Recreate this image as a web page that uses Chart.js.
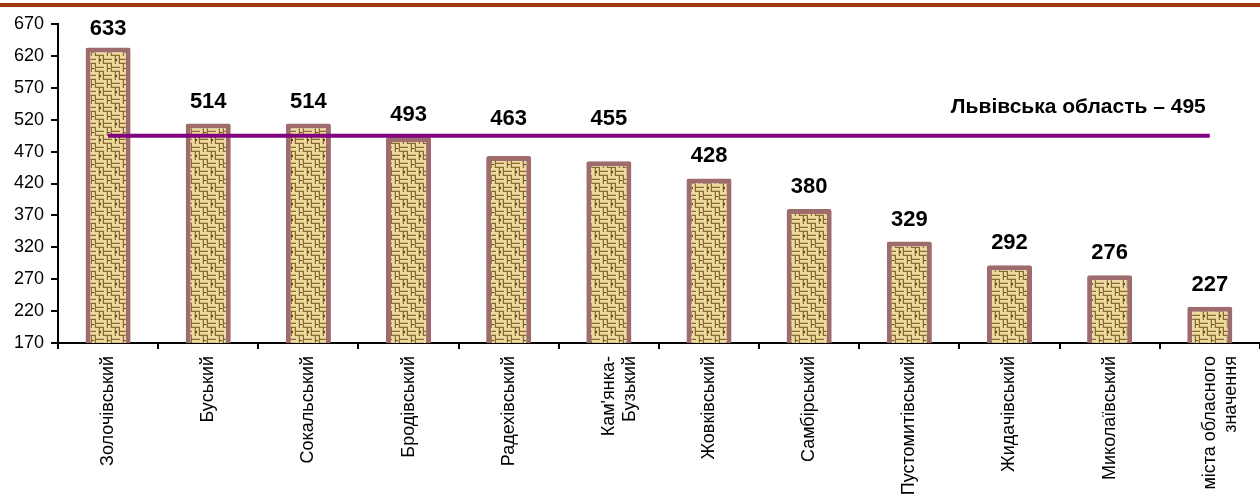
<!DOCTYPE html>
<html><head><meta charset="utf-8">
<script src="https://cdn.jsdelivr.net/npm/chart.js@4.4.0/dist/chart.umd.min.js"></script>
<style>
html,body{margin:0;padding:0;background:#fff;}
#wrap{position:relative;width:1260px;height:499px;overflow:hidden;}
#topline{position:absolute;left:0;top:3px;width:1260px;height:4px;background:#9c3a0c;}
canvas{position:absolute;left:0;top:0;}
</style></head>
<body><div id="wrap"><canvas id="c" width="1260" height="499"></canvas><div id="topline"></div></div>
<script>
const categories = [
  "Золочівський","Буський","Сокальський","Бродівський","Радехівський",
  ["Кам'янка-","Бузький"],"Жовківський","Самбірський","Пустомитівський",
  "Жидачівський","Миколаївський",["міста обласного","значення"]
];
const values = [633,514,514,493,463,455,428,380,329,292,276,227];
const regionAverage = 495;
const regionLabel = "Львівська область – 495";
const yTicks = {min:170, max:670, step:50};

function makePattern(){
  const p = document.createElement('canvas');
  p.width = 16; p.height = 16;
  const g = p.getContext('2d');
  g.fillStyle = '#c6aa70'; g.fillRect(0,0,16,16);
  for(let by=0; by<2; by++){
    for(let bx=0; bx<2; bx++){
      const x0=bx*8, y0=by*8;
      if((bx+by)%2===0){
        g.fillStyle='#eedc9e'; g.fillRect(x0,y0,8,2); g.fillRect(x0,y0+4,8,2);
        g.fillStyle='#d4bc82'; g.fillRect(x0,y0+2,8,1); g.fillRect(x0,y0+6,8,1);
        g.fillStyle='#8a6a34'; g.fillRect(x0,y0+3,8,1); g.fillRect(x0,y0+7,8,1);
      } else {
        g.fillStyle='#eedc9e'; g.fillRect(x0,y0,2,8); g.fillRect(x0+4,y0,2,8);
        g.fillStyle='#d4bc82'; g.fillRect(x0+2,y0,1,8); g.fillRect(x0+6,y0,1,8);
        g.fillStyle='#8a6a34'; g.fillRect(x0+3,y0,1,8); g.fillRect(x0+7,y0,1,8);
      }
    }
  }
  g.fillStyle='#5e4520'; g.fillRect(3,11,2,2); g.fillRect(12,4,2,1);
  return document.getElementById('c').getContext('2d').createPattern(p,'repeat');
}

const valueLabels = {
  id:'valueLabels',
  afterDatasetsDraw(chart){
    const ctx = chart.ctx;
    const meta = chart.getDatasetMeta(0);
    const lm = chart.getDatasetMeta(1);
    const lineY = lm.data[0].y;
    ctx.save();
    ctx.font = 'bold 22px "Liberation Sans", Arial, sans-serif';
    ctx.fillStyle = '#000';
    ctx.textAlign = 'center';
    ctx.textBaseline = 'alphabetic';
    meta.data.forEach((el,i)=>{
      let b = Math.max(35, el.y - 16);
      if (b > lineY - 11 && b - 16 < lineY + 3) b = lineY - 11;
      ctx.fillText(String(values[i]), el.x, b);
    });
    const last = lm.data[lm.data.length-1];
    ctx.font = 'bold 21px "Liberation Sans", Arial, sans-serif';
    ctx.textAlign = 'right';
    ctx.fillText(regionLabel, last.x - 4, last.y - 23);
    ctx.restore();
  }
};

const fam = '"Liberation Sans", Arial, sans-serif';
new Chart(document.getElementById('c'), {
  data:{
    labels: categories,
    datasets:[
      {type:'bar', data: values, backgroundColor: makePattern(), borderColor:'#9e6c6c', borderWidth:5,
       borderRadius:2, borderSkipped:false, barPercentage:0.45, categoryPercentage:1, order:2},
      {type:'line', data: categories.map(()=>regionAverage), borderColor:'#800080', borderWidth:4,
       pointRadius:0, fill:false, order:1}
    ]
  },
  options:{
    responsive:false, animation:false,
    layout:{padding:{top:24, right:-3, left:0, bottom:0}},
    plugins:{legend:{display:false}, tooltip:{enabled:false}},
    scales:{
      x:{
        afterFit(s){ s.height = 156; },
        grid:{display:true, offset:true, drawOnChartArea:false, color:'#000', tickLength:6, lineWidth:2},
        border:{display:true, color:'#000', width:2},
        ticks:{maxRotation:90, minRotation:90, color:'#000', font:{family:fam, size:18}, padding:7, autoSkip:false}
      },
      y:{
        afterFit(s){ s.width = 58; },
        min:yTicks.min, max:yTicks.max,
        grid:{display:true, drawOnChartArea:false, color:'#000', tickLength:7, lineWidth:2},
        border:{display:true, color:'#000', width:2},
        ticks:{stepSize:yTicks.step, color:'#000', font:{family:fam, size:18}, padding:7}
      }
    }
  },
  plugins:[valueLabels]
});
</script></body></html>
